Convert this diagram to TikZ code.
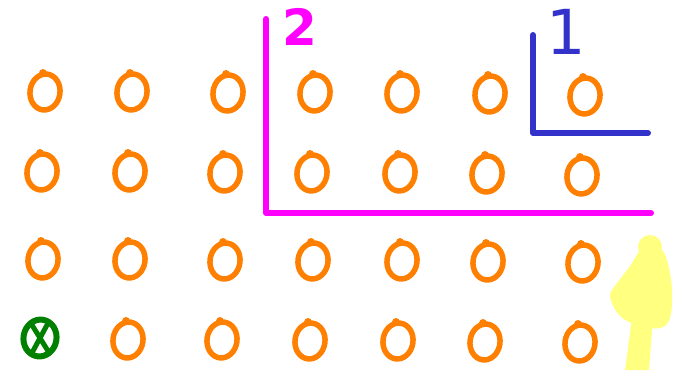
\documentclass[tikz,border=0pt]{standalone}
\usepackage{fontspec}
\setmainfont{DejaVu Sans}
\usetikzlibrary{shapes.geometric}
\definecolor{orng}{HTML}{FF8000}
\definecolor{mgnt}{HTML}{FF00FF}
\definecolor{blu}{HTML}{3333CC}
\definecolor{grn}{HTML}{008000}
\definecolor{ylw}{HTML}{FFFF80}
\tikzset{
  ring/.style={ellipse, draw=orng, line width=5.5pt, minimum width=30pt, minimum height=36pt, inner sep=0pt, rotate=-8},
  gring/.style={ellipse, draw=grn, line width=6pt, minimum width=33pt, minimum height=37pt, inner sep=0pt, rotate=-10},
  axis/.style={line width=6pt, line cap=round, line join=round},
  lbl/.style={font=\bfseries\fontsize{50}{50}\selectfont, inner sep=0pt}
}
\newcommand{\ringat}[3]{%
  \node[ring] (#1) at (#2,#3) {};
  \fill[orng] (#2-2,#3-19) circle (4pt);
}
\begin{document}
\begin{tikzpicture}[x=1pt,y=-1pt]
\useasboundingbox (0,0) rectangle (676,370);
% row 1
\ringat{a1}{45}{92}
\ringat{a2}{132}{92}
\ringat{a3}{228}{93}
\ringat{a4}{315}{93}
\ringat{a5}{402}{93}
\ringat{a6}{490}{94}
\ringat{a7}{585}{96}
% row 2
\ringat{b1}{42}{172}
\ringat{b2}{130}{172}
\ringat{b3}{225}{173}
\ringat{b4}{312}{173}
\ringat{b5}{400}{173}
\ringat{b6}{487}{174}
\ringat{b7}{582}{176}
% row 3
\ringat{c1}{43}{260}
\ringat{c2}{130}{260}
\ringat{c3}{225}{261}
\ringat{c4}{313}{261}
\ringat{c5}{402}{261}
\ringat{c6}{488}{262}
\ringat{c7}{583}{263}
% row 4
\ringat{d2}{128}{340}
\ringat{d3}{222}{340}
\ringat{d4}{310}{341}
\ringat{d5}{398}{341}
\ringat{d6}{485}{342}
\ringat{d7}{580}{343}
% green crossed ring
\node[gring] (g) at (40,338) {};
\draw[grn, line width=5pt, line cap=round] (32,325) -- (48,351) (47,325) -- (33,351);
% magenta L
\coordinate (m1) at (266,19);
\coordinate (m2) at (266,213);
\coordinate (m3) at (651,213);
\draw[mgnt, axis] (m1) -- (m2) -- (m3);
\node[lbl, text=mgnt] (two) at (300,27) {2};
% blue L
\coordinate (n1) at (533,35);
\coordinate (n2) at (533,133);
\coordinate (n3) at (648,133);
\draw[blu, axis] (n1) -- (n2) -- (n3);
\node[lbl, text=blu, font=\fontsize{62}{62}\selectfont] (one) at (566,32) {1};
% yellow tree
\fill[ylw] (625,370) -- (632,318) -- (653,318) -- (649,370) -- cycle;
\fill[ylw] (650,247) circle (12pt);
\fill[ylw] plot[smooth cycle, tension=0.6] coordinates {(640,250) (650,240) (662,250) (668,264) (672,290) (670,318) (660,328) (640,326) (620,316) (610,296) (618,282) (630,266)};
\end{tikzpicture}
\end{document}
